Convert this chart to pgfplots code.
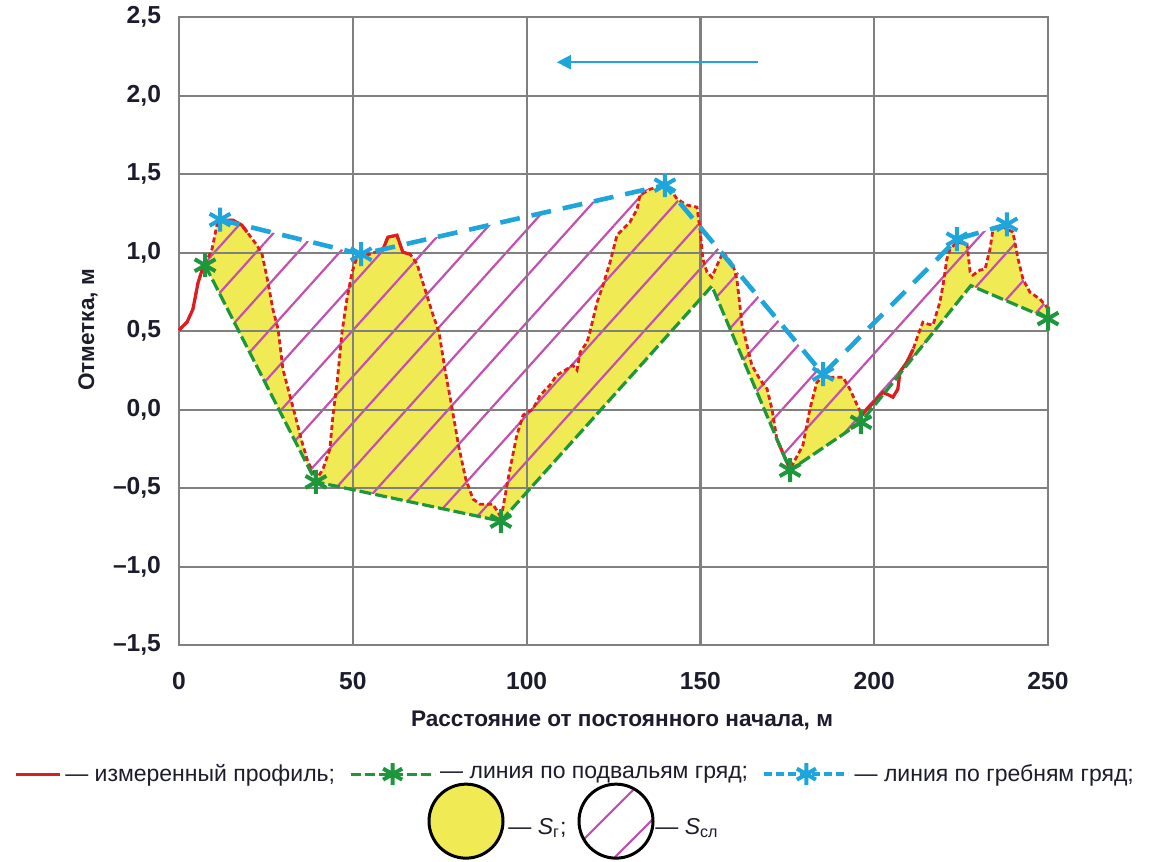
\documentclass[border=0pt]{standalone}
\usepackage{fontspec}
\setmainfont{Liberation Sans}
\usepackage{pgfplots}
\pgfplotsset{compat=1.18}
\usetikzlibrary{patterns.meta,arrows.meta}
\definecolor{redc}{RGB}{222,30,30}
\definecolor{greenc}{RGB}{30,150,60}
\definecolor{bluec}{RGB}{30,165,220}
\definecolor{yellowc}{RGB}{240,234,85}
\definecolor{hatchc}{RGB}{195,80,175}
\definecolor{gridc}{RGB}{128,128,128}
\definecolor{textc}{RGB}{28,28,45}
\pgfplotsset{layers/fillbelow/.define layer set={axis background,pre main,axis grid,axis ticks,axis lines,axis tick labels,main,axis descriptions,axis foreground}{/pgfplots/layers/standard}}
\pgfplotsset{
  shortline/.style={legend image code/.code={\draw[##1] (0pt,0pt) -- (22pt,0pt);}},
  longmark/.style={legend image code/.code={\draw[mark repeat=2,mark phase=2,##1] plot coordinates {(0pt,0pt) (21pt,0pt) (42pt,0pt)};}},
}

\pgfplotstableread{
x y
0 0.506
2.3 0.557
4.0 0.64
5.5 0.81
6.9 0.908
7.5 0.925
9.5 1.022
10.9 1.175
12.7 1.207
15.5 1.207
18.1 1.175
19.6 1.131
22.4 1.048
23.9 0.990
25.6 0.812
27.0 0.640
28.5 0.513
29.9 0.258
31.4 0.131
33.4 -0.035
35.4 -0.207
37.1 -0.334
39.1 -0.417
39.4 -0.45
41.4 -0.379
43.4 -0.252
44.3 -0.035
45.5 0.175
46.9 0.494
48.3 0.704
49.8 0.876
51.2 0.971
54.9 0.99
58.7 1.022
60.1 1.099
62.7 1.111
64.4 1.003
66.5 0.99
68.5 0.927
71.3 0.729
73.1 0.602
74.8 0.494
76.5 0.258
78.4 0.029
80.4 -0.226
82.5 -0.443
84.6 -0.570
86.6 -0.602
90.3 -0.602
92.3 -0.672
92.6 -0.70
95.2 -0.379
97.2 -0.162
99.0 -0.035
101.8 0.003
103.9 0.092
106.7 0.156
108.7 0.220
111.6 0.258
113.3 0.283
114.5 0.252
115.4 0.366
117.4 0.430
118.2 0.494
120.3 0.685
122.0 0.793
124.0 0.939
126.0 1.111
127.7 1.150
129.7 1.194
131.8 1.277
132.6 1.366
135.5 1.404
140.4 1.436
143.3 1.341
146.1 1.303
149.0 1.290
149.9 1.150
150.7 0.959
151.9 0.876
153.3 0.844
154.8 0.920
156.5 1.003
159.4 0.920
160.5 0.831
162.0 0.538
163.4 0.411
164.8 0.283
167.1 0.194
169.2 0.131
170.6 0.003
172.0 -0.188
173.8 -0.28
175.8 -0.379
179.5 -0.226
181.5 0.003
183.5 0.175
185.3 0.207
191.0 0.207
193.0 0.131
195.1 0.029
196.5 -0.035
197.9 0.003
200.8 0.067
202.5 0.111
205.4 0.080
206.8 0.131
207.4 0.239
209.4 0.303
211.2 0.385
212.6 0.475
214.0 0.557
215.5 0.545
216.9 0.538
218.9 0.685
219.8 0.793
220.9 0.959
221.8 1.022
223.8 1.067
226.7 1.054
227.6 0.876
228.4 0.857
230.4 0.889
231.9 0.895
233.3 1.022
234.2 1.150
237.1 1.162
239.9 1.131
241.4 0.959
242.8 0.831
244.8 0.748
247.7 0.704
249.7 0.653
250 0.62
}\profile

\pgfplotstableread{
x y
7.5 0.92
39.4 -0.46
92.6 -0.71
153.3 0.787
175.8 -0.385
196.2 -0.08
227.8 0.79
250 0.58
}\lowline

\pgfplotstableread{
x y
11.8 1.21
52.4 0.99
139.8 1.43
185.3 0.226
223.8 1.086
238.2 1.18
}\crestline

\begin{document}
\begin{tikzpicture}
\begin{axis}[
  set layers=fillbelow,
  scale only axis, width=434.5pt, height=314pt,
  xmin=0, xmax=250, ymin=-1.5, ymax=2.5,
  xtick={0,50,...,250}, xticklabels={0,50,100,150,200,250},
  ytick={-1.5,-1,-0.5,0,0.5,1,1.5,2,2.5},
  yticklabels={{–1,5},{–1,0},{–0,5},{0,0},{0,5},{1,0},{1,5},{2,0},{2,5}},
  grid=major, major tick length=0pt,
  grid style={gridc, line width=1.1pt},
  axis line style={gridc, line width=1.1pt},
  ticklabel style={font=\bfseries\fontsize{12.3}{14}\selectfont, text=textc},
  xticklabel style={yshift=-10pt},
  yticklabel style={xshift=-5.5pt},
  xlabel={Расстояние от постоянного начала, м},
  ylabel={Отметка, м},
  label style={font=\bfseries\fontsize{11.3}{13}\selectfont, text=textc},
  xlabel style={at={(axis description cs:0.5098,-0.1194)}, anchor=center},
  ylabel style={at={(axis description cs:-0.1047,0.502)}, anchor=center},
  clip=false,
  legend style={draw=none, fill=none, at={(axis description cs:0.4568,-0.2054)}, anchor=center,
    font=\fontsize{11.5}{13}\selectfont, text=textc,
    /tikz/every even column/.append style={column sep=5pt}},
  legend columns=3, legend cell align=left,
]
% yellow S_g regions
\addplot[on layer=pre main, draw=none, fill=yellowc, forget plot] coordinates {
(7.5,0.925)(9.5,1.022)(10.9,1.175)(12.7,1.207)(15.5,1.207)(18.1,1.175)(19.6,1.131)(22.4,1.048)(23.9,0.990)(25.6,0.812)(27.0,0.640)(28.5,0.513)(29.9,0.258)(31.4,0.131)(33.4,-0.035)(35.4,-0.207)(37.1,-0.334)(39.1,-0.417)(39.4,-0.45)(41.4,-0.379)(43.4,-0.252)(44.3,-0.035)(45.5,0.175)(46.9,0.494)(48.3,0.704)(49.8,0.876)(51.2,0.971)(54.9,0.99)(58.7,1.022)(60.1,1.099)(62.7,1.111)(64.4,1.003)(66.5,0.99)(68.5,0.927)(71.3,0.729)(73.1,0.602)(74.8,0.494)(76.5,0.258)(78.4,0.029)(80.4,-0.226)(82.5,-0.443)(84.6,-0.570)(86.6,-0.602)(90.3,-0.602)(92.3,-0.672)(92.6,-0.70)(95.2,-0.379)(97.2,-0.162)(99.0,-0.035)(101.8,0.003)(103.9,0.092)(106.7,0.156)(108.7,0.220)(111.6,0.258)(113.3,0.283)(114.5,0.252)(115.4,0.366)(117.4,0.430)(118.2,0.494)(120.3,0.685)(122.0,0.793)(124.0,0.939)(126.0,1.111)(127.7,1.150)(129.7,1.194)(131.8,1.277)(132.6,1.366)(135.5,1.404)(140.4,1.436)(143.3,1.341)(146.1,1.303)(149.0,1.290)(149.9,1.150)(150.7,0.959)(151.9,0.876)(153.3,0.844)(154.8,0.920)(156.5,1.003)(159.4,0.920)(160.5,0.831)(162.0,0.538)(163.4,0.411)(164.8,0.283)(167.1,0.194)(169.2,0.131)(170.6,0.003)(172.0,-0.188)(173.8,-0.28)(175.8,-0.379)(179.5,-0.226)(181.5,0.003)(183.5,0.175)(185.3,0.207)(191.0,0.207)(193.0,0.131)(195.1,0.029)(196.5,-0.035)
(196.2,-0.08)(175.8,-0.385)(153.3,0.787)(92.6,-0.71)(39.4,-0.46)(7.5,0.92)};
\addplot[on layer=pre main, draw=none, fill=yellowc, forget plot] coordinates {
(207.2,0.226)(207.4,0.239)(209.4,0.303)(211.2,0.385)(212.6,0.475)(214.0,0.557)(215.5,0.545)(216.9,0.538)(218.9,0.685)(219.8,0.793)(220.9,0.959)(221.8,1.022)(223.8,1.067)(226.7,1.054)(227.6,0.876)(228.4,0.857)(230.4,0.889)(231.9,0.895)(233.3,1.022)(234.2,1.150)(237.1,1.162)(239.9,1.131)(241.4,0.959)(242.8,0.831)(244.8,0.748)(247.7,0.704)(249.7,0.653)(250,0.62)
(250,0.58)(227.8,0.79)(207.2,0.226)};
% hatched S_sl region
\addplot[on layer=pre main, draw=none, pattern={Lines[angle=48,distance=15.5pt,line width=1.1pt]}, pattern color=hatchc, forget plot] coordinates {
(7.5,0.925)(9.5,1.022)(10.9,1.175)(11.8,1.21)(52.4,0.99)(139.8,1.43)(185.3,0.226)(223.8,1.086)(238.2,1.18)(239.9,1.131)(241.4,0.959)(242.8,0.831)(244.8,0.748)(247.7,0.704)(249.7,0.653)(250,0.62)
(250,0.58)(227.8,0.79)(196.2,-0.08)(175.8,-0.385)(153.3,0.787)(92.6,-0.71)(39.4,-0.46)(7.5,0.92)};
% measured profile
\addplot[redc, line width=1.4pt, dash pattern=on 2.5pt off 1.5pt, forget plot] table {\profile};
\addplot[redc, line width=1.6pt, forget plot] coordinates {(0,0.506)(2.3,0.557)(4.0,0.64)(5.5,0.81)(6.9,0.908)(7.5,0.925)};
\addplot[redc, line width=1.6pt, forget plot] coordinates {(10.9,1.175)(12.7,1.207)(15.5,1.207)(18.1,1.175)(19.6,1.131)};
\addplot[redc, line width=1.6pt, forget plot] coordinates {(58.7,1.022)(60.1,1.099)(62.7,1.111)(64.4,1.003)(66.5,0.99)};
\addplot[redc, line width=1.6pt, forget plot] coordinates {(172.0,-0.188)(173.8,-0.28)(175.8,-0.379)};
\addplot[redc, line width=1.6pt, forget plot] coordinates {(196.5,-0.035)(197.9,0.003)(200.8,0.067)(202.5,0.111)(205.4,0.080)(206.8,0.131)(207.4,0.239)(209.4,0.303)(211.2,0.385)};
% trough line
\addplot[greenc, line width=1.6pt, dash pattern=on 6pt off 2pt, forget plot] table {\lowline};
\addplot[only marks, mark=asterisk, mark size=6pt, mark options={greenc, solid, line width=2pt}, forget plot] coordinates {(7.5,0.92)(39.4,-0.46)(92.6,-0.71)(175.8,-0.385)(196.2,-0.08)(250,0.58)};
% crest line
\addplot[bluec, line width=2.3pt, dash pattern=on 10pt off 6pt, forget plot] table {\crestline};
\addplot[only marks, mark=asterisk, mark size=6pt, mark options={bluec, solid, line width=2pt}, forget plot] table {\crestline};
% arrow
\draw[bluec, line width=1.1pt, -{Triangle[length=7pt,width=7pt]}] (axis cs:166.6,2.213) -- (axis cs:108.7,2.213);
% legend
\addlegendimage{redc, line width=1.6pt, shortline}
\addlegendentry{— измеренный профиль;}
\addlegendimage{greenc, line width=1.6pt, dash pattern=on 5pt off 2pt, mark=asterisk, mark size=5.5pt, mark options={solid, line width=2pt}, longmark}
\addlegendentry{— линия по подвальям гряд;}
\addlegendimage{bluec, line width=2.3pt, dash pattern=on 4pt off 2pt, mark=asterisk, mark size=5.5pt, mark options={solid, line width=2pt}, longmark}
\addlegendentry{— линия по гребням гряд;}
\end{axis}
% second legend row
\draw[line width=1.5pt, fill=yellowc] (143.5pt,-88pt) circle (18.5pt);
\begin{scope}
\clip (218.5pt,-88pt) circle (18.5pt);
\draw[hatchc, line width=1.1pt] (218.5pt,-88pt) ++(-3.5pt,3.5pt) ++(-30pt,-30pt) -- ++(60pt,60pt);
\draw[hatchc, line width=1.1pt] (218.5pt,-88pt) ++(8.75pt,-8.75pt) ++(-30pt,-30pt) -- ++(60pt,60pt);
\end{scope}
\draw[line width=1.5pt] (218.5pt,-88pt) circle (18.5pt);
\node[anchor=west, text=textc, font=\fontsize{11.5}{13}\selectfont, inner sep=0pt] at (164.5pt,-91.5pt) {— \textit{S}\textsubscript{г};};
\node[anchor=west, text=textc, font=\fontsize{11.5}{13}\selectfont, inner sep=0pt] at (238pt,-91.5pt) {— \textit{S}\textsubscript{сл}};
\path (-89.5pt,-108pt) rectangle (486pt,321.5pt);
\end{tikzpicture}
\end{document}
